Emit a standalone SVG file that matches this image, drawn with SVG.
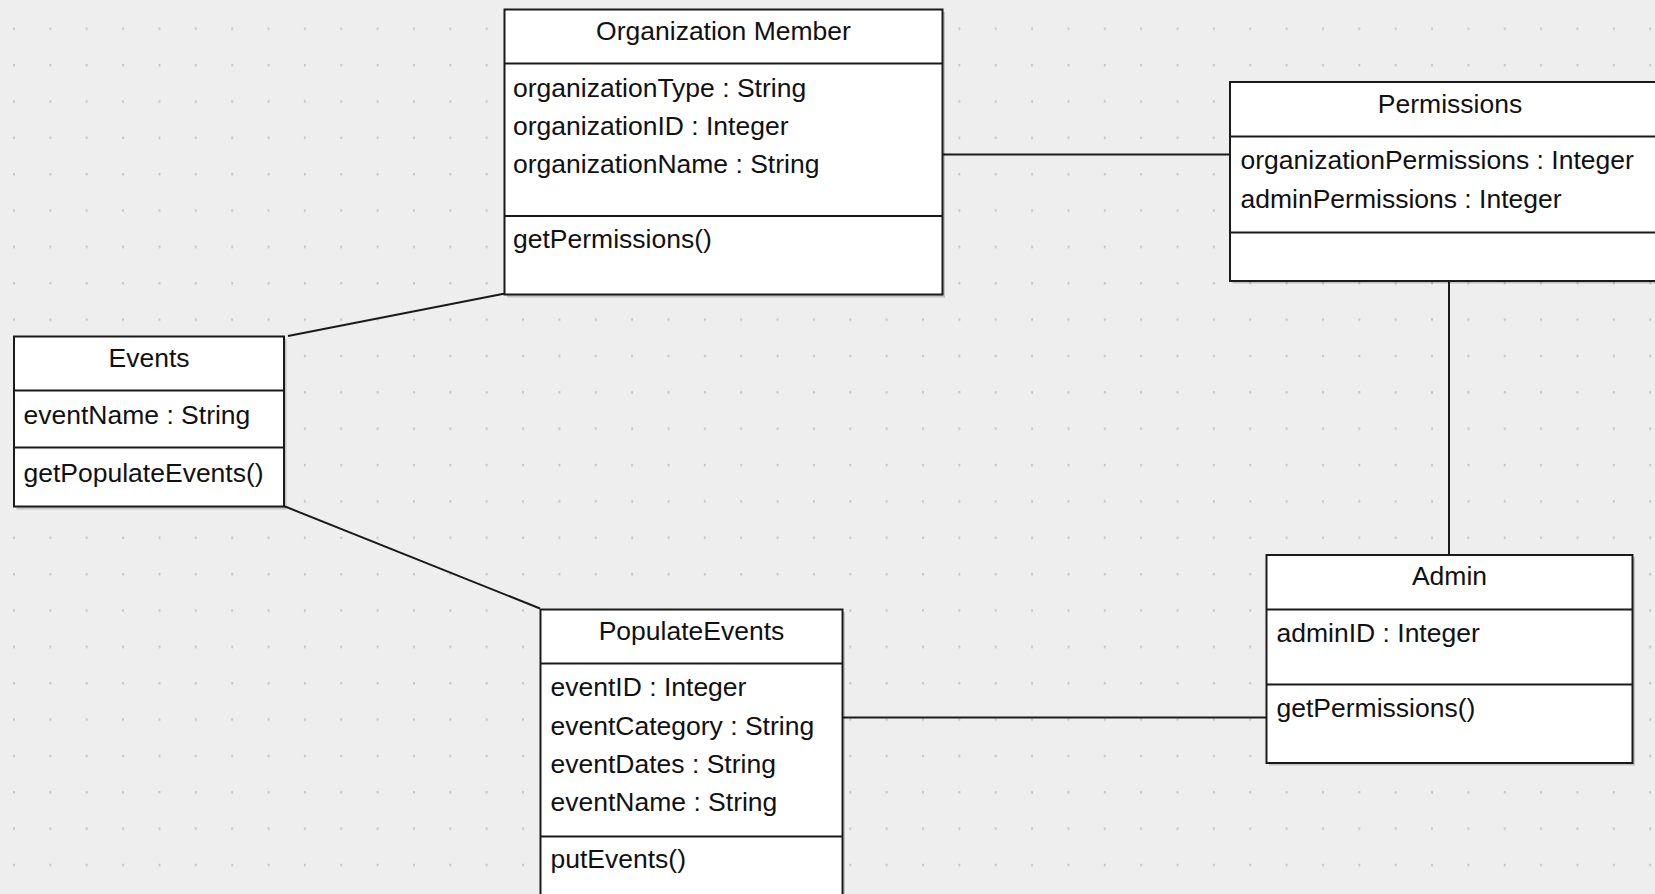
<svg xmlns="http://www.w3.org/2000/svg" width="1655" height="894" viewBox="0 0 1655 894">
<defs>
<pattern id="grid" x="13" y="27.5" width="36.36" height="36.36" patternUnits="userSpaceOnUse">
<rect x="0" y="0" width="2" height="2.5" fill="#c6c6c6"/>
</pattern>
<style>
.box{fill:#ffffff;stroke:#1a1a1a;stroke-width:2}
.shadow{fill:#000000;opacity:0.18}
.div{stroke:#1a1a1a;stroke-width:2}
.t{font-family:"Liberation Sans",Arial,sans-serif;font-size:26.5px;fill:#111111}
.c{text-anchor:middle}
.edge{stroke:#1a1a1a;stroke-width:2;fill:none}
</style>
</defs>
<rect width="1655" height="894" fill="#eeeeee"/>
<rect width="1655" height="894" fill="url(#grid)"/>

<g id="connectors">
<line class="edge" x1="941" y1="154.5" x2="1230" y2="154.5"/>
<line class="edge" x1="1449" y1="281" x2="1449" y2="555"/>
<line class="edge" x1="288" y1="336" x2="505" y2="293.5"/>
<line class="edge" x1="285" y1="506.5" x2="540" y2="608.5"/>
<line class="edge" x1="840" y1="717.5" x2="1267" y2="717.5"/>
</g>

<g id="organization-member">
<rect class="shadow" x="507" y="12" width="438" height="285.5"/>
<rect class="box" x="504.5" y="9.5" width="438" height="285"/>
<line class="div" x1="504.5" y1="63.5" x2="942.5" y2="63.5"/>
<line class="div" x1="504.5" y1="216" x2="942.5" y2="216"/>
<text class="t c" x="723.5" y="40">Organization Member</text>
<text class="t" x="513" y="97">organizationType : String</text>
<text class="t" x="513" y="135">organizationID : Integer</text>
<text class="t" x="513" y="173">organizationName : String</text>
<text class="t" x="513" y="248">getPermissions()</text>
</g>

<g id="permissions">
<rect class="shadow" x="1232.5" y="84.5" width="440" height="199"/>
<rect class="box" x="1230" y="82" width="440" height="199"/>
<line class="div" x1="1230" y1="136.5" x2="1670" y2="136.5"/>
<line class="div" x1="1230" y1="232.5" x2="1670" y2="232.5"/>
<text class="t c" x="1450" y="113">Permissions</text>
<text class="t" x="1240.5" y="169">organizationPermissions : Integer</text>
<text class="t" x="1240.5" y="207.5">adminPermissions : Integer</text>
</g>

<g id="events">
<rect class="shadow" x="16.5" y="339" width="270" height="170.5"/>
<rect class="box" x="14" y="336.5" width="270" height="170"/>
<line class="div" x1="14" y1="390.5" x2="284" y2="390.5"/>
<line class="div" x1="14" y1="447.5" x2="284" y2="447.5"/>
<text class="t c" x="149" y="366.5">Events</text>
<text class="t" x="23.5" y="424">eventName : String</text>
<text class="t" x="23.5" y="481.5">getPopulateEvents()</text>
</g>

<g id="populate-events">
<rect class="shadow" x="543" y="612" width="302" height="290"/>
<rect class="box" x="540.5" y="609.5" width="302" height="290"/>
<line class="div" x1="540.5" y1="663.5" x2="842.5" y2="663.5"/>
<line class="div" x1="540.5" y1="836.5" x2="842.5" y2="836.5"/>
<text class="t c" x="691.5" y="639.5">PopulateEvents</text>
<text class="t" x="550.5" y="696">eventID : Integer</text>
<text class="t" x="550.5" y="735">eventCategory : String</text>
<text class="t" x="550.5" y="772.5">eventDates : String</text>
<text class="t" x="550.5" y="810.5">eventName : String</text>
<text class="t" x="550.5" y="868">putEvents()</text>
</g>

<g id="admin">
<rect class="shadow" x="1269" y="557.5" width="366" height="208"/>
<rect class="box" x="1266.5" y="555" width="366" height="208"/>
<line class="div" x1="1266.5" y1="609.5" x2="1632.5" y2="609.5"/>
<line class="div" x1="1266.5" y1="684.5" x2="1632.5" y2="684.5"/>
<text class="t c" x="1449.5" y="585">Admin</text>
<text class="t" x="1276.5" y="641.5">adminID : Integer</text>
<text class="t" x="1276.5" y="716.5">getPermissions()</text>
</g>
</svg>
